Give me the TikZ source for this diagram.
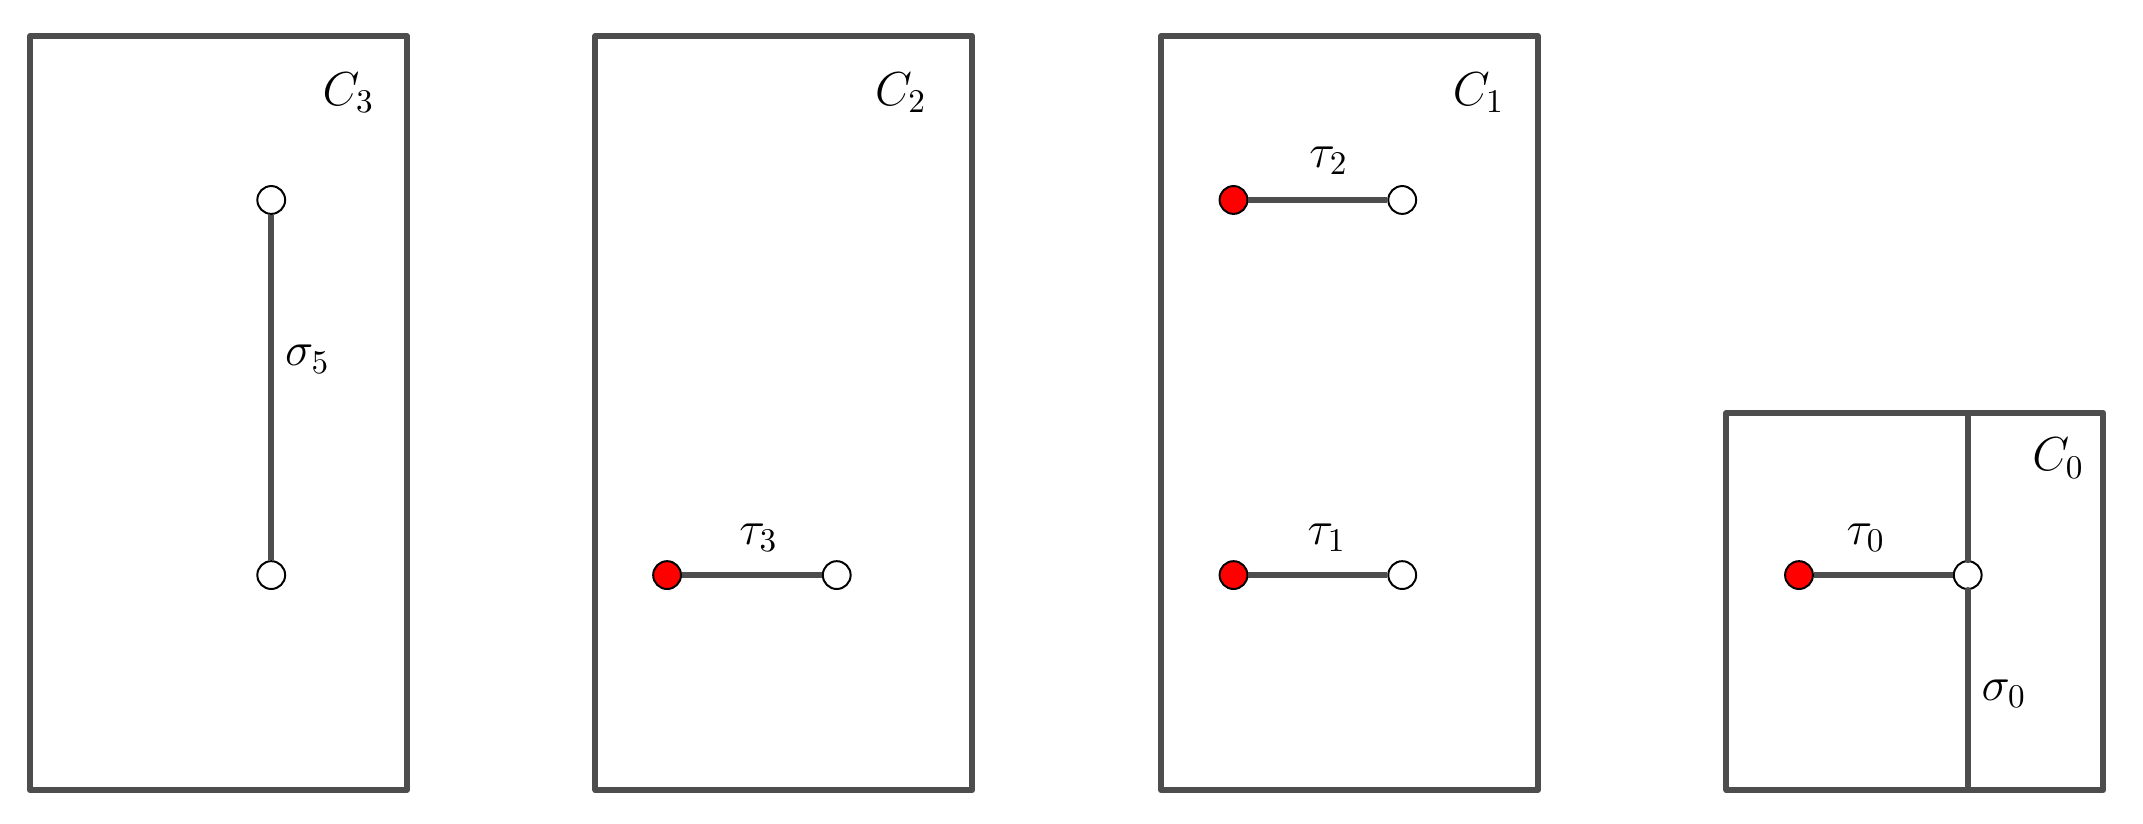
\documentclass[tikz,border=0pt]{standalone}
\usepackage{amsmath}
\usepackage{amssymb}
\usepackage{tikz}
\usetikzlibrary{arrows}
\definecolor{edgegray}{HTML}{4D4D4D}
\tikzset{
  cellline/.style={line width=1.8pt,color=edgegray},
  simpline/.style={line width=1.8pt,color=edgegray,line cap=butt},
  freept/.style={circle,draw=black,fill=white,line width=0.6pt,inner sep=0pt,minimum size=8.4pt},
  redpt/.style={freept,fill=red}
}

\begin{document}
\begin{tikzpicture}[line cap=round,line join=round,x=1cm,y=1cm,font=\Large]
\useasboundingbox (-0.318,-0.361) rectangle (22.42,8.382);
% the four cells
\draw [cellline] (0,0) rectangle (4,8);
\draw [cellline] (6,0) rectangle (10,8);
\draw [cellline] (12,0) rectangle (16,8);
\draw [cellline] (18,0) rectangle (22,4);
\coordinate (divbot) at (20.56,0);
\coordinate (divtop) at (20.56,4);
% points
\node [freept] (s5top) at (2.56,6.26) {};
\node [freept] (s5bot) at (2.56,2.28) {};
\node [redpt] (t3red) at (6.76,2.28) {};
\node [freept] (t3free) at (8.56,2.28) {};
\node [redpt] (t2red) at (12.77,6.26) {};
\node [freept] (t2free) at (14.56,6.26) {};
\node [redpt] (t1red) at (12.77,2.28) {};
\node [freept] (t1free) at (14.56,2.28) {};
\node [redpt] (t0red) at (18.77,2.28) {};
\node [freept] (t0free) at (20.56,2.28) {};
% segments
\draw [simpline] (s5top) -- (s5bot);
\draw [simpline] (t3red) -- (t3free);
\draw [simpline] (t2red) -- (t2free);
\draw [simpline] (t1red) -- (t1free);
\draw [simpline] (t0red) -- (t0free);
\draw [cellline] (divtop) -- (t0free);
\draw [cellline] (t0free) -- (divbot);
% labels
\node (labC3) at (3.38,7.40) {$C_3$};
\node (labC2) at (9.24,7.40) {$C_2$};
\node (labC1) at (15.37,7.40) {$C_1$};
\node (labC0) at (21.52,3.52) {$C_0$};
\node [anchor=west,inner sep=4pt] (labs5) at (2.56,4.57) {$\sigma_5$};
\node [anchor=west,inner sep=4pt] (labs0) at (20.56,1.02) {$\sigma_0$};
\node (labt3) at (7.73,2.68) {$\tau_3$};
\node (labt2) at (13.78,6.68) {$\tau_2$};
\node (labt1) at (13.76,2.68) {$\tau_1$};
\node (labt0) at (19.48,2.68) {$\tau_0$};
\end{tikzpicture}
\end{document}
